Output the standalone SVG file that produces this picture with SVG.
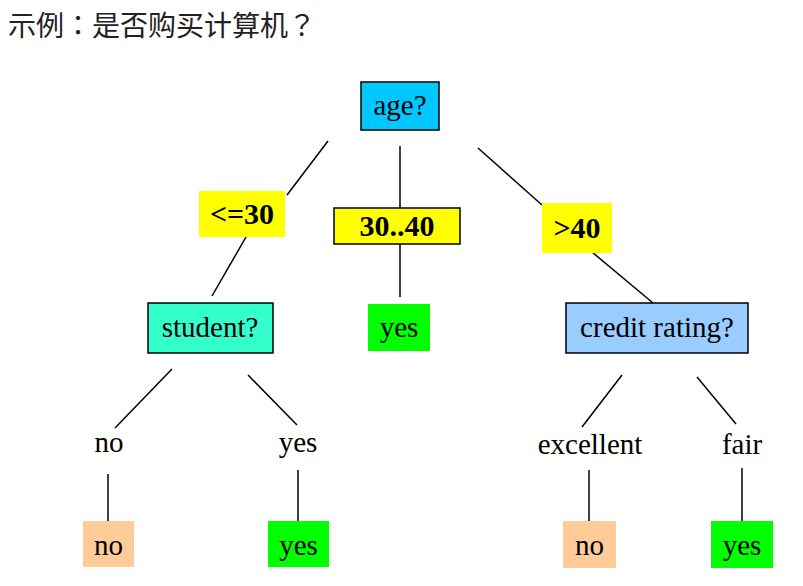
<svg xmlns="http://www.w3.org/2000/svg" width="803" height="586" viewBox="0 0 803 586">
<style>
.t{font-family:"Liberation Serif","Times New Roman",serif;font-size:29px;fill:#000;text-anchor:middle}
.b{font-weight:bold;font-size:30px}
.bd{stroke:#000;stroke-width:1.5}
.c line{stroke:#000;stroke-width:1.5}
</style>
<rect width="803" height="586" fill="#fff"/>
<text x="8" y="36" font-family="'Noto Sans CJK TC','Noto Sans CJK SC',sans-serif" font-size="28" fill="#222">示例：是否购买计算机？</text>
<g class="c" id="connectors">
<line x1="328" y1="141" x2="287" y2="195"/>
<line x1="400" y1="146" x2="400" y2="208"/>
<line x1="478" y1="148" x2="542" y2="205"/>
<line x1="246" y1="237" x2="212" y2="296"/>
<line x1="400" y1="244" x2="400" y2="297"/>
<line x1="592" y1="252" x2="653" y2="303"/>
<line x1="172" y1="369" x2="115" y2="428"/>
<line x1="248" y1="375" x2="297" y2="425"/>
<line x1="622" y1="375" x2="582" y2="427"/>
<line x1="697" y1="377" x2="736" y2="424"/>
<line x1="108" y1="474" x2="108" y2="521"/>
<line x1="298" y1="470" x2="298" y2="521"/>
<line x1="589" y1="470" x2="589" y2="521"/>
<line x1="742" y1="468" x2="742" y2="521"/>
</g>
<g id="age"><rect x="361" y="82" width="78" height="48" fill="#00C8FF" class="bd"/><text class="t" x="400" y="115">age?</text></g>
<g id="le30"><rect x="199" y="191" width="86" height="46" fill="#FFFF00"/><text class="t b" x="242" y="224">&lt;=30</text></g>
<g id="r3040"><rect x="334" y="208" width="126" height="36" fill="#FFFF00" class="bd"/><text class="t b" x="397" y="236">30..40</text></g>
<g id="gt40"><rect x="542" y="203" width="70" height="50" fill="#FFFF00"/><text class="t b" x="577" y="238">&gt;40</text></g>
<g id="student"><rect x="148" y="303" width="125" height="50" fill="#33FFCC" class="bd"/><text class="t" x="210" y="337">student?</text></g>
<g id="yes_mid"><rect x="368" y="304" width="62" height="47" fill="#00FF00"/><text class="t" x="399" y="337">yes</text></g>
<g id="credit"><rect x="566" y="303" width="182" height="50" fill="#99CCFF" class="bd"/><text class="t" x="657" y="337">credit rating?</text></g>
<g id="lbl_no"><text class="t" x="109" y="452">no</text></g>
<g id="lbl_yes"><text class="t" x="298" y="452">yes</text></g>
<g id="lbl_excellent"><text class="t" x="590" y="454">excellent</text></g>
<g id="lbl_fair"><text class="t" x="742" y="454">fair</text></g>
<g id="leaf_no1"><rect x="83" y="521" width="51" height="46" fill="#FFCC99"/><text class="t" x="108.5" y="555">no</text></g>
<g id="leaf_yes1"><rect x="268" y="521" width="61" height="46" fill="#00FF00"/><text class="t" x="298.5" y="555">yes</text></g>
<g id="leaf_no2"><rect x="563" y="521" width="53" height="47" fill="#FFCC99"/><text class="t" x="589.5" y="555">no</text></g>
<g id="leaf_yes2"><rect x="711" y="521" width="62" height="47" fill="#00FF00"/><text class="t" x="742" y="555">yes</text></g>
</svg>
